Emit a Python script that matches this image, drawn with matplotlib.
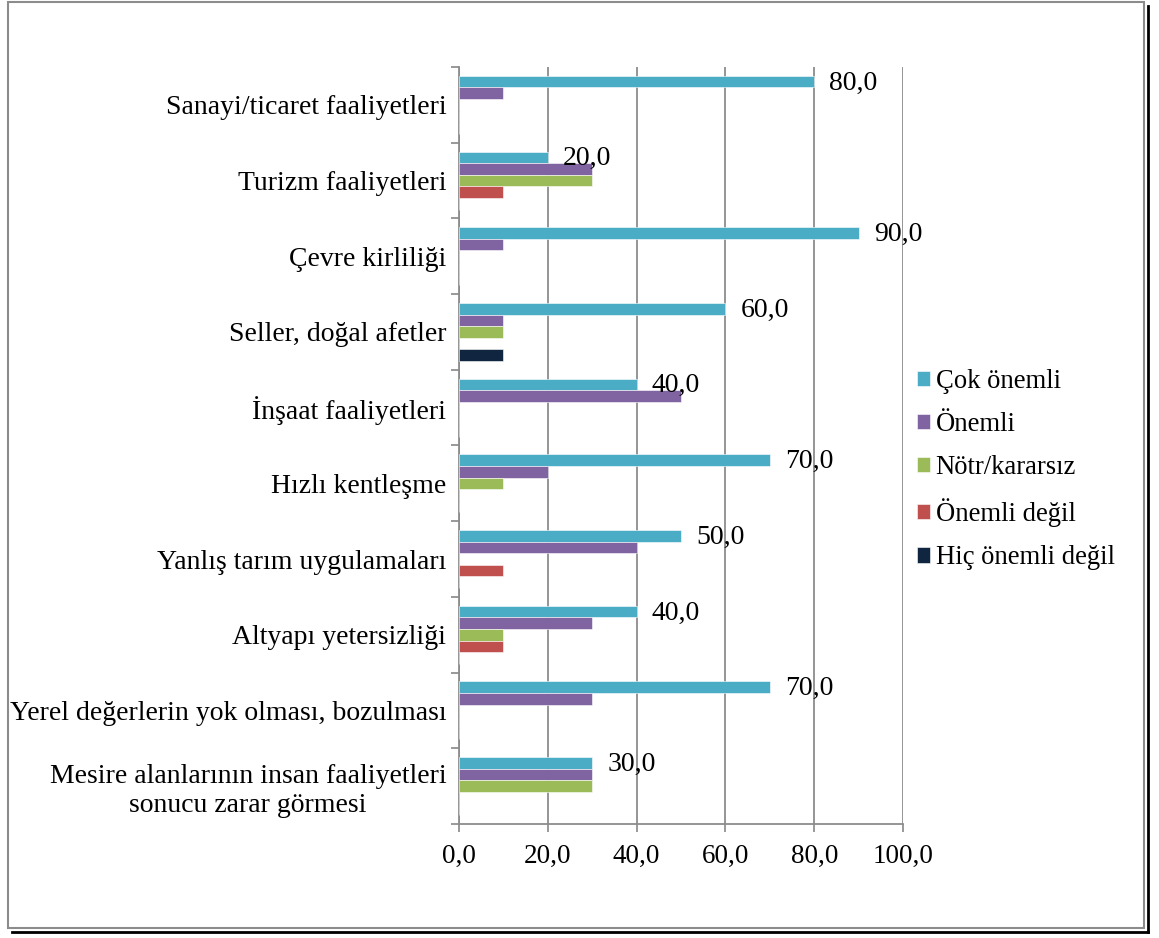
import numpy as np
import matplotlib
matplotlib.use("Agg")
import matplotlib.pyplot as plt
from matplotlib.patches import Rectangle
from matplotlib.lines import Line2D

plt.rcParams['font.family'] = ['Liberation Serif', 'DejaVu Serif']

categories = ["Sanayi/ticaret faaliyetleri", "Turizm faaliyetleri", "Çevre kirliliği",
              "Seller, doğal afetler", "İnşaat faaliyetleri", "Hızlı kentleşme",
              "Yanlış tarım uygulamaları", "Altyapı yetersizliği",
              "Yerel değerlerin yok olması, bozulması",
              "Mesire alanlarının insan faaliyetleri\nsonucu zarar görmesi"]
series_names = ["Çok önemli", "Önemli", "Nötr/kararsız", "Önemli değil", "Hiç önemli değil"]
cok_onemli = [80, 20, 90, 60, 40, 70, 50, 40, 70, 30]
onemli = [10, 30, 10, 10, 50, 20, 40, 30, 30, 30]
notr = [0, 30, 0, 10, 0, 10, 0, 10, 0, 30]
onemli_degil = [0, 10, 0, 0, 0, 0, 10, 10, 0, 0]
hic_onemli_degil = [0, 0, 0, 10, 0, 0, 0, 0, 0, 0]
xticks = [0, 20, 40, 60, 80, 100]

colors = ["#4BACC6", "#8064A2", "#9BBB59", "#C0504D", "#10253F"]
all_series = [cok_onemli, onemli, notr, onemli_degil, hic_onemli_degil]

fig = plt.figure(figsize=(11.59, 9.38), dpi=100)
ax = fig.add_axes([459/1159, 1-824/938, (903-459)/1159, (824-67)/938])

n = len(categories)
bh = 0.153
ypos = np.arange(n)
for k, (vals, col, name) in enumerate(zip(all_series, colors, series_names)):
    offs = (k - 2) * bh
    ax.barh(ypos + offs, vals, height=bh, color=col, edgecolor='white',
            linewidth=0.4, label=name, zorder=3)

# data labels for first series
for i, v in enumerate(cok_onemli):
    ax.annotate(f"{v:.1f}".replace('.', ','), xy=(v, i - 2 * bh), xytext=(11, -1),
                textcoords='offset points', va='center', ha='left', fontsize=20, zorder=4)

ax.set_xlim(0, 100)
ax.set_ylim(n - 0.5, -0.5)
ax.set_xticks(xticks)
ax.set_xticklabels([f"{x:.1f}".replace('.', ',') for x in xticks], fontsize=19.5)
ax.set_yticks(ypos)
ax.set_yticklabels(categories, fontsize=20, multialignment='center')
ax.set_yticks(np.arange(n + 1) - 0.5, minor=True)
ax.tick_params(axis='y', which='major', length=0, pad=9)
ax.tick_params(axis='y', which='minor', length=6, color='#888888', width=1.2)
ax.tick_params(axis='x', length=6, color='#888888', width=1.2, pad=8)
ax.grid(axis='x', color='#8c8c8c', linewidth=1.3, zorder=0)
for s in ['top', 'right']:
    ax.spines[s].set_visible(False)
for s in ['left', 'bottom']:
    ax.spines[s].set_color('#8c8c8c')
    ax.spines[s].set_linewidth(1.3)

leg = fig.legend(loc='upper left', bbox_to_anchor=(893/1159, 1-345/938), frameon=False,
                 fontsize=19.2, handlelength=0.5, handleheight=0.5, handletextpad=0.2,
                 labelspacing=0.68)

# outer frame
fig.add_artist(Rectangle((8/1159, 1-928/938), 1136/1159, 926/938, transform=fig.transFigure,
                         fill=False, edgecolor='#8c8c8c', linewidth=1.5))
fig.add_artist(Line2D([1148/1159, 1148/1159], [1-932/938, 1-6/938], transform=fig.transFigure,
                      color='black', linewidth=2))
fig.add_artist(Line2D([12/1159, 1148/1159], [1-932/938, 1-932/938], transform=fig.transFigure,
                      color='black', linewidth=2))

fig.savefig("out.png", dpi=100)
